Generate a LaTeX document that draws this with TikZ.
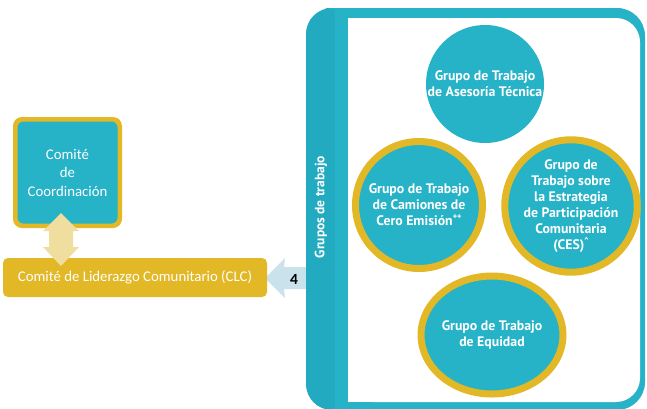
\documentclass[tikz,border=0pt]{standalone}
\usepackage{fontspec}
\setmainfont{Carlito}
\newfontfamily\grpfont{PT Sans}
\usetikzlibrary{shapes.geometric}
\definecolor{tealc}{HTML}{26B2C7}
\definecolor{tealbar}{HTML}{22ABC0}
\definecolor{goldc}{HTML}{E2B827}
\definecolor{palegold}{HTML}{F0DE9E}
\definecolor{lightblue}{HTML}{C9E2EC}
\newcommand{\tinysup}[1]{\raisebox{0.45em}{\fontsize{8.5}{8.5}\selectfont #1}}
\tikzset{
  grp/.style={circle, fill=tealc, text=white, align=center, inner sep=0pt,
    font=\grpfont\bfseries\fontsize{13.8}{16}\selectfont},
  ringed/.style={grp, draw=goldc, line width=7pt},
  lefttext/.style={text=white, font=\fontsize{14.8}{18.5}\selectfont, align=center}
}
\begin{document}
\begin{tikzpicture}[x=1pt,y=-1pt]
\useasboundingbox (0,0) rectangle (647,408);
% arrow from panel to CLC (tail hidden under panel)
\fill[lightblue] (265,278) -- (285,258) -- (284,267) -- (312,267) -- (312,289) -- (284,289) -- (285,298) -- cycle;
% panel
\node[fill=tealc, rounded corners=28pt, minimum width=339pt, minimum height=402pt, inner sep=0pt] (panel) at (475.5,209) {};
\fill[tealbar, rounded corners=26pt] (306,8) rectangle (350,410);
\fill[tealc] (335,8) rectangle (350,410);
\fill[white, rounded corners=24pt] (348,18) rectangle (640,402);
\fill[white] (348,18) rectangle (520,402);
\node[rotate=90, text=white, font=\grpfont\bfseries\fontsize{13.5}{14}\selectfont] (bar) at (321,207) {Grupos de trabajo};
% circles
\node[grp, minimum size=118pt] (ase) at (485,84) {Grupo de Trabajo\\de Asesoría Técnica};
\node[ringed, minimum size=127pt] (cam) at (419,205) {Grupo de Trabajo\\de Camiones de\\Cero Emisión\tinysup{++}};
\node[ringed, minimum size=127pt] (ces) at (571,206) {Grupo de\\Trabajo sobre\\la Estrategia\\de Participación\\Comunitaria\\(CES)\tinysup{\textasciicircum}};
\node[ringed, ellipse, minimum width=130pt, minimum height=118pt] (equ) at (492,335) {Grupo de Trabajo\\de Equidad};
% left side
\node[fill=goldc, rounded corners=9pt, minimum width=109pt, minimum height=111pt, inner sep=0pt] (coordout) at (67.5,172.5) {};
\node[fill=tealc, rounded corners=6pt, minimum width=100pt, minimum height=102pt, inner sep=0pt, lefttext] (coord) at (67.5,172.5) {Comité\\de\\Coordinación};
\node[fill=goldc, rounded corners=5pt, minimum width=264pt, minimum height=39pt, inner sep=0pt, lefttext] (clc) at (135,277.5) {Comité de Liderazgo Comunitario (CLC)};
\node[font=\bfseries\fontsize{15.5}{15.5}\selectfont] (four) at (294,279) {4};
% double arrow between coord and clc
\fill[palegold] (61,213) -- (79,231) -- (73,231) -- (73,247) -- (79,247) -- (61,266) -- (43,247) -- (49,247) -- (49,231) -- (43,231) -- cycle;
\end{tikzpicture}
\end{document}
